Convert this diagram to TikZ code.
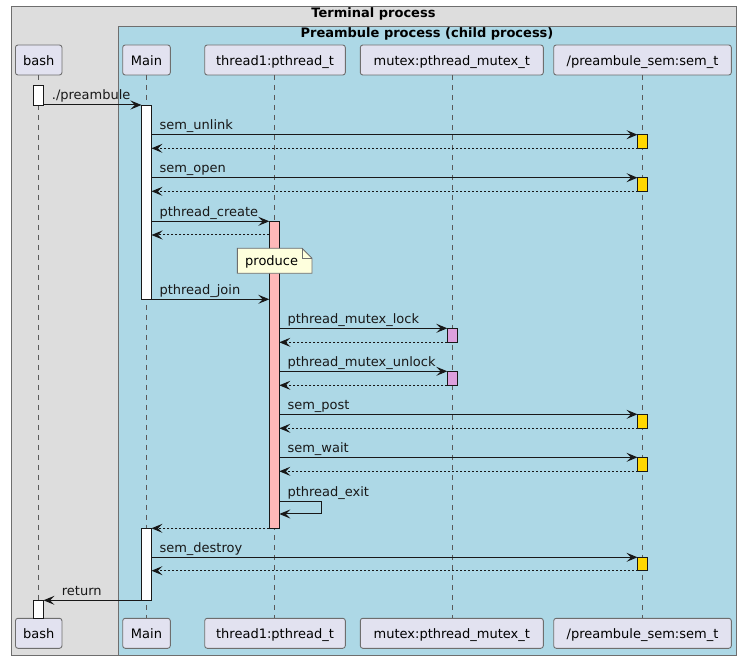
\documentclass[tikz,border=0pt]{standalone}
\usepackage{fontspec}
\setmainfont{DejaVu Sans}
\usetikzlibrary{arrows.meta}
\definecolor{outerbg}{HTML}{DDDDDD}
\definecolor{innerbg}{HTML}{ADD8E6}
\definecolor{partfill}{HTML}{E2E2F0}
\definecolor{partdraw}{HTML}{6E6E6E}
\definecolor{lifecol}{HTML}{5A5A5A}
\definecolor{threadcol}{HTML}{FFB8B8}
\definecolor{mutexcol}{HTML}{DDA0DD}
\definecolor{semcol}{HTML}{FFD700}
\definecolor{notefill}{HTML}{FEFFDD}
\definecolor{msgcol}{HTML}{181818}
\begin{document}
\begin{tikzpicture}[x=1pt,y=-1pt,
  every node/.style={font=\fontsize{13}{15}\selectfont},
  part/.style={draw=partdraw,line width=0.9pt,fill=partfill,rounded corners=2.5pt,
    minimum height=30pt,inner sep=0pt,text height=12.5pt,text depth=2pt},
  lifeline/.style={draw=lifecol,line width=0.8pt,dash pattern=on 5pt off 5pt},
  actbar/.style={draw=msgcol,line width=0.9pt,inner sep=0pt,minimum width=10pt},
  msg/.style={draw=msgcol,line width=1pt,-{Stealth[length=11pt,width=9pt,inset=4.5pt]}},
  ret/.style={msg,dash pattern=on 2pt off 2pt},
  lbl/.style={anchor=base west,inner sep=0pt,text=msgcol},
  ttl/.style={font=\fontsize{13}{15}\selectfont\bfseries,anchor=base,inner sep=0pt}]
\useasboundingbox (0,0) rectangle (740,660);
% group boxes
\draw[draw=partdraw,line width=0.9pt,fill=outerbg] (11,6) rectangle (736,655);
\draw[draw=partdraw,line width=0.9pt,fill=innerbg] (118,26) rectangle (736,655);
\node[ttl] (t1) at (373.5,18) {Terminal process};
\node[ttl] (t2) at (427,37.5) {Preambule process (child process)};
% participants
\node[part,minimum width=46.5pt] (bashT) at (38.7,60) {bash};
\node[part,minimum width=47.6pt] (mainT) at (146.5,60) {Main};
\node[part,minimum width=140.6pt] (thrT) at (275,60) {thread1:pthread\_t};
\node[part,minimum width=183pt] (mtxT) at (451.8,60) {mutex:pthread\_mutex\_t};
\node[part,minimum width=177.6pt] (semT) at (642.5,60) {/preambule\_sem:sem\_t};
\node[part,minimum width=46.5pt] (bashB) at (38.7,633.3) {bash};
\node[part,minimum width=47.6pt] (mainB) at (146.5,633.3) {Main};
\node[part,minimum width=140.6pt] (thrB) at (275,633.3) {thread1:pthread\_t};
\node[part,minimum width=183pt] (mtxB) at (451.8,633.3) {mutex:pthread\_mutex\_t};
\node[part,minimum width=177.6pt] (semB) at (642.5,633.3) {/preambule\_sem:sem\_t};
% lifelines
\draw[lifeline] (38.7,75) -- (38.7,618.3);
\draw[lifeline] (146.5,75) -- (146.5,618.3);
\draw[lifeline] (274.3,75) -- (274.3,618.3);
\draw[lifeline] (452.3,75) -- (452.3,618.3);
\draw[lifeline] (642.5,75) -- (642.5,618.3);
% activation bars
\draw[actbar,fill=white] (33.7,85) rectangle (43.5,105);
\draw[actbar,fill=white] (141.5,105) rectangle (151.5,299.3);
\draw[actbar,fill=threadcol] (269.3,221.3) rectangle (279.3,528.3);
\draw[actbar,fill=white] (141.5,528.3) rectangle (151.5,600.3);
\draw[actbar,fill=white] (33.7,600.3) rectangle (43.5,618.3);
\draw[actbar,fill=semcol] (637.5,134.7) rectangle (647.5,148.3);
\draw[actbar,fill=semcol] (637.5,177.7) rectangle (647.5,191.3);
\draw[actbar,fill=mutexcol] (447.3,328.3) rectangle (457.3,342.3);
\draw[actbar,fill=mutexcol] (447.3,371.3) rectangle (457.3,385.3);
\draw[actbar,fill=semcol] (637.5,414.3) rectangle (647.5,428.3);
\draw[actbar,fill=semcol] (637.5,457.3) rectangle (647.5,471.3);
\draw[actbar,fill=semcol] (637.5,557.3) rectangle (647.5,570.7);
% message end points
\coordinate (a1) at (43.5,105);   \coordinate (b1) at (141.5,105);
\coordinate (a2) at (151.5,134.7); \coordinate (b2) at (637.5,134.7);
\coordinate (a3) at (637.5,148.3); \coordinate (b3) at (151.5,148.3);
\coordinate (a4) at (151.5,177.7); \coordinate (b4) at (637.5,177.7);
\coordinate (a5) at (637.5,191.3); \coordinate (b5) at (151.5,191.3);
\coordinate (a6) at (151.5,221.3); \coordinate (b6) at (269.3,221.3);
\coordinate (a7) at (269.3,235);   \coordinate (b7) at (151.5,235);
\coordinate (a8) at (151.5,299.3); \coordinate (b8) at (269.3,299.3);
\coordinate (a9) at (279.3,328.3); \coordinate (b9) at (447.3,328.3);
\coordinate (a10) at (447.3,342.3); \coordinate (b10) at (279.3,342.3);
\coordinate (a11) at (279.3,371.3); \coordinate (b11) at (447.3,371.3);
\coordinate (a12) at (447.3,385.3); \coordinate (b12) at (279.3,385.3);
\coordinate (a13) at (279.3,414.3); \coordinate (b13) at (637.5,414.3);
\coordinate (a14) at (637.5,428.3); \coordinate (b14) at (279.3,428.3);
\coordinate (a15) at (279.3,457.3); \coordinate (b15) at (637.5,457.3);
\coordinate (a16) at (637.5,471.3); \coordinate (b16) at (279.3,471.3);
\coordinate (a17) at (279.3,501.7); \coordinate (b17) at (279.3,514);
\coordinate (a18) at (269.3,528.3); \coordinate (b18) at (151.5,528.3);
\coordinate (a19) at (151.5,557.3); \coordinate (b19) at (637.5,557.3);
\coordinate (a20) at (637.5,570.7); \coordinate (b20) at (151.5,570.7);
\coordinate (a21) at (141.5,600.3); \coordinate (b21) at (43.5,600.3);
% messages
\draw[msg] (a1) -- (b1);
\node[lbl] (l1) at (51.7,100) {./preambule};
\draw[msg] (a2) -- (b2);
\node[lbl] (l2) at (159.3,130) {sem\_unlink};
\draw[ret] (a3) -- (b3);
\draw[msg] (a4) -- (b4);
\node[lbl] (l4) at (159.3,173) {sem\_open};
\draw[ret] (a5) -- (b5);
\draw[msg] (a6) -- (b6);
\node[lbl] (l6) at (159.3,216.6) {pthread\_create};
\draw[ret] (a7) -- (b7);
\draw[msg] (a8) -- (b8);
\node[lbl] (l8) at (159.3,294.6) {pthread\_join};
\draw[msg] (a9) -- (b9);
\node[lbl] (l9) at (287.3,323.6) {pthread\_mutex\_lock};
\draw[ret] (a10) -- (b10);
\draw[msg] (a11) -- (b11);
\node[lbl] (l11) at (287.3,366.6) {pthread\_mutex\_unlock};
\draw[ret] (a12) -- (b12);
\draw[msg] (a13) -- (b13);
\node[lbl] (l13) at (287.3,409.6) {sem\_post};
\draw[ret] (a14) -- (b14);
\draw[msg] (a15) -- (b15);
\node[lbl] (l15) at (287.3,452.6) {sem\_wait};
\draw[ret] (a16) -- (b16);
\draw[msg] (a17) -- (321.7,501.7) -- (321.7,514) -- (b17);
\node[lbl] (l17) at (287.3,497) {pthread\_exit};
\draw[ret] (a18) -- (b18);
\draw[msg] (a19) -- (b19);
\node[lbl] (l19) at (159.3,552.6) {sem\_destroy};
\draw[ret] (a20) -- (b20);
\draw[msg] (a21) -- (b21);
\node[lbl] (l21) at (61.7,595.6) {return};
% note
\draw[draw=partdraw,line width=0.9pt,fill=notefill]
  (237.3,248.3) -- (302,248.3) -- (312,258.3) -- (312,273.3) -- (237.3,273.3) -- cycle;
\draw[draw=partdraw,line width=0.7pt] (302,248.3) -- (302,258.3) -- (312,258.3);
\node[anchor=base west,inner sep=0pt] (note) at (245,265.5) {produce};
\end{tikzpicture}
\end{document}
